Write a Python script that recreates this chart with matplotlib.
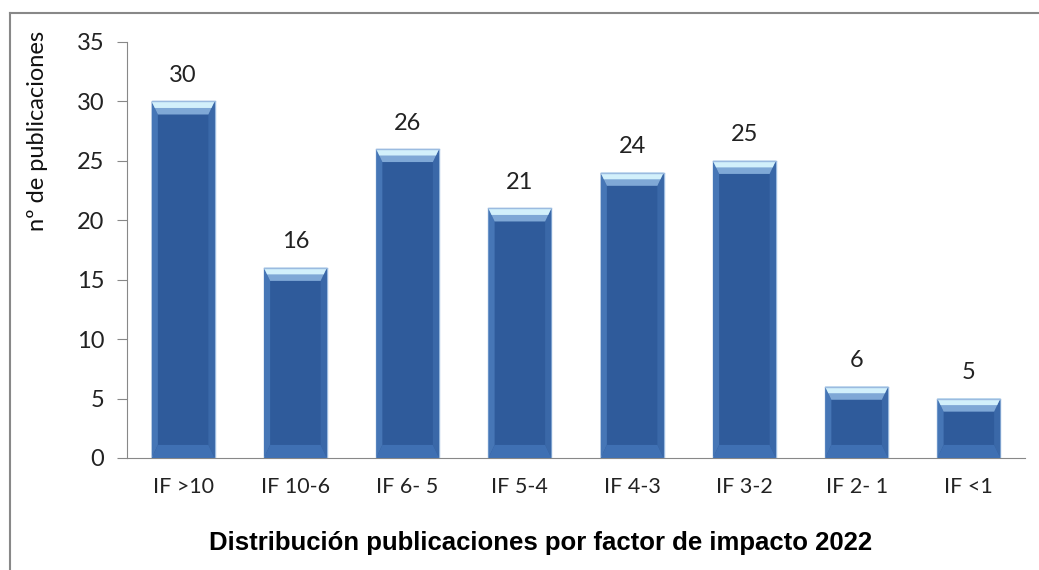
import matplotlib
matplotlib.use("Agg")
import matplotlib.pyplot as plt
from matplotlib.patches import Polygon
from matplotlib.lines import Line2D
import numpy as np

# data
categories = ["IF >10", "IF 10-6", "IF 6- 5", "IF 5-4", "IF 4-3", "IF 3-2", "IF 2- 1", "IF <1"]
counts = [30, 16, 26, 21, 24, 25, 6, 5]

fig = plt.figure(figsize=(10.39, 5.70), dpi=100)
ax = fig.add_axes([127 / 1039, 1 - 458 / 570, (1025 - 127) / 1039, (458 - 42) / 570])

x = np.arange(len(categories))
w = 0.56
main_col = "#2f5b9b"

ax.bar(x, counts, width=w, color=main_col, edgecolor="#9bbbe0", linewidth=1.0, zorder=2)

# bevel effect: light cap on top, lighter side strips, light bottom lip
cap = 1.1
side = 0.055
for xi, v in zip(x, counts):
    l, r = xi - w / 2, xi + w / 2
    # side strips
    ax.add_patch(Polygon([(l, 0), (l + side, cap), (l + side, v - cap), (l, v)],
                         closed=True, facecolor="#4676b6", edgecolor="none", zorder=3))
    ax.add_patch(Polygon([(r, 0), (r - side, cap), (r - side, v - cap), (r, v)],
                         closed=True, facecolor="#3a68a8", edgecolor="none", zorder=3))
    # bottom lip
    ax.add_patch(Polygon([(l, 0), (r, 0), (r - side, cap), (l + side, cap)],
                         closed=True, facecolor="#3f70b3", edgecolor="none", zorder=3))
    # top cap, fading from pale cyan into the bar colour
    ax.add_patch(Polygon([(l, v), (r, v), (r - side, v - cap), (l + side, v - cap)],
                         closed=True, facecolor="#7fa8d6", edgecolor="none", zorder=4))
    ax.add_patch(Polygon([(l, v), (r, v), (r - side * 0.5, v - cap * 0.5), (l + side * 0.5, v - cap * 0.5)],
                         closed=True, facecolor="#d2f0fb", edgecolor="none", zorder=5))
    ax.plot([l, r], [v, v], color="#9bbbe0", lw=1.0, zorder=6)
    ax.annotate(str(v), (xi, v), xytext=(0, 14), textcoords="offset points",
                ha="center", va="baseline", fontsize=17, family="Lato", color="#222222")

ax.set_xlim(-0.5, len(categories) - 0.5)
ax.set_ylim(0, 35)
ax.set_yticks(range(0, 36, 5))
ax.set_xticks(x)
ax.set_xticklabels(categories, fontsize=15.5, family="Lato", color="#222222")
ax.tick_params(axis="y", direction="out", length=7.5, color="#888888", labelsize=17, pad=9)
ax.tick_params(axis="x", length=0, pad=14)
for lab in ax.get_yticklabels():
    lab.set_family("Lato")
    lab.set_color("#222222")

for s in ["top", "right"]:
    ax.spines[s].set_visible(False)
ax.spines["left"].set_color("#888888")
ax.spines["bottom"].set_color("#888888")

fig.text(38 / 1039, 1 - 131 / 570, "nº de publicaciones", rotation=90,
         ha="center", va="center", fontsize=17, family="Lato", color="#111111")

fig.text(541 / 1039, 1 - 543 / 570, "Distribución publicaciones por factor de impacto 2022",
         ha="center", va="center", fontsize=18.5, fontweight="bold", family="Liberation Sans")

# chart frame (top and left edges visible)
fig.add_artist(Line2D([10 / 1039, 1], [1 - 13 / 570, 1 - 13 / 570], color="#888888", lw=1.5))
fig.add_artist(Line2D([10 / 1039, 10 / 1039], [0, 1 - 13 / 570], color="#888888", lw=1.5))

fig.savefig("out.png", dpi=100)
